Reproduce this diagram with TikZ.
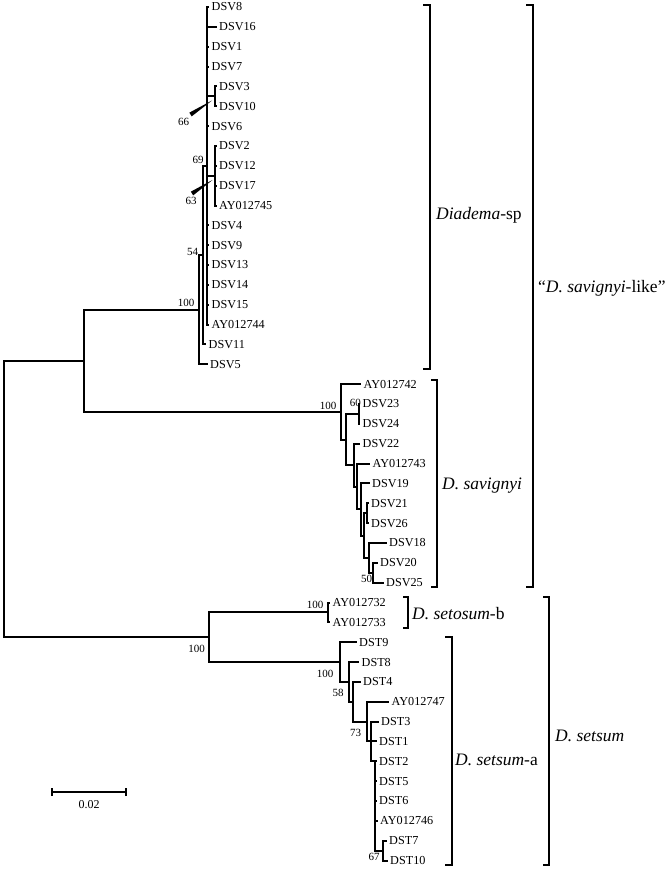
\documentclass[tikz,border=0pt]{standalone}
\usepackage{fontspec}
\setmainfont{Liberation Serif}
\begin{document}
\begin{tikzpicture}[x=1pt,y=-1pt,
  br/.style={line width=2pt},
  brk/.style={line width=2.2pt},
  leaf/.style={anchor=west,inner xsep=2.5pt,inner ysep=0pt,font=\fontsize{12.2}{14}\selectfont},
  bs/.style={inner sep=0pt,font=\fontsize{11}{13}\selectfont},
  clade/.style={anchor=base west,inner sep=0pt,font=\fontsize{17.5}{20}\selectfont}]
\useasboundingbox (0,0) rectangle (671,870);

% ---------- internal nodes ----------
\coordinate (root) at (4,499);
\coordinate (Nlike) at (84,360.75);
\coordinate (N54) at (199,309.7);
\coordinate (N69) at (202.5,255.1);
\coordinate (M) at (207,165.8);
\coordinate (N66) at (215,96.3);
\coordinate (N63) at (215,175.7);
\coordinate (N1) at (341,411.8);
\coordinate (N2) at (346,439.5);
\coordinate (N60) at (359,413.9);
\coordinate (N3) at (354,465.1);
\coordinate (N4) at (357,486.5);
\coordinate (N5) at (361,509.45);
\coordinate (N6) at (364,535.5);
\coordinate (N7) at (366.5,513.2);
\coordinate (N8) at (369,557.8);
\coordinate (N50) at (373,572.7);
\coordinate (Nset) at (209,637.2);
\coordinate (Nb) at (327.5,612.4);
\coordinate (S1) at (340,662.05);
\coordinate (S2) at (349,681.9);
\coordinate (S3) at (352.5,701.75);
\coordinate (S4) at (367,721.6);
\coordinate (S5) at (371,741.45);
\coordinate (S6) at (375,761.3);
\coordinate (N67) at (383,850.6);

% ---------- leaves: Diadema-sp ----------
\node[leaf] (dsv8) at (209,7) {DSV8};
\node[leaf] (dsv16) at (216.5,26.85) {DSV16};
\node[leaf] (dsv1) at (209,46.7) {DSV1};
\node[leaf] (dsv7) at (209,66.55) {DSV7};
\node[leaf] (dsv3) at (216.5,86.4) {DSV3};
\node[leaf] (dsv10) at (216.5,106.25) {DSV10};
\node[leaf] (dsv6) at (209,126.1) {DSV6};
\node[leaf] (dsv2) at (216.5,145.95) {DSV2};
\node[leaf] (dsv12) at (216.5,165.8) {DSV12};
\node[leaf] (dsv17) at (216.5,185.65) {DSV17};
\node[leaf] (ay45) at (216.5,205.5) {AY012745};
\node[leaf] (dsv4) at (209,225.35) {DSV4};
\node[leaf] (dsv9) at (209,245.2) {DSV9};
\node[leaf] (dsv13) at (209,265.05) {DSV13};
\node[leaf] (dsv14) at (209,284.9) {DSV14};
\node[leaf] (dsv15) at (209,304.75) {DSV15};
\node[leaf] (ay44) at (209,324.6) {AY012744};
\node[leaf] (dsv11) at (206,344.45) {DSV11};
\node[leaf] (dsv5) at (207.5,364.3) {DSV5};

% ---------- leaves: D. savignyi ----------
\node[leaf] (ay42) at (361,384.15) {AY012742};
\node[leaf] (dsv23) at (360,404) {DSV23};
\node[leaf] (dsv24) at (360,423.85) {DSV24};
\node[leaf] (dsv22) at (360,443.7) {DSV22};
\node[leaf] (ay43) at (370,463.55) {AY012743};
\node[leaf] (dsv19) at (369.5,483.4) {DSV19};
\node[leaf] (dsv21) at (368.5,503.25) {DSV21};
\node[leaf] (dsv26) at (368.5,523.1) {DSV26};
\node[leaf] (dsv18) at (386.5,542.95) {DSV18};
\node[leaf] (dsv20) at (377.5,562.8) {DSV20};
\node[leaf] (dsv25) at (383.5,582.65) {DSV25};

% ---------- leaves: D. setosum ----------
\node[leaf] (ay32) at (330,602.5) {AY012732};
\node[leaf] (ay33) at (330,622.35) {AY012733};
\node[leaf] (dst9) at (356.5,642.2) {DST9};
\node[leaf] (dst8) at (359,662.05) {DST8};
\node[leaf] (dst4) at (360.5,681.9) {DST4};
\node[leaf] (ay47) at (389,701.75) {AY012747};
\node[leaf] (dst3) at (378.5,721.6) {DST3};
\node[leaf] (dst1) at (376.5,741.45) {DST1};
\node[leaf] (dst2) at (376.5,761.3) {DST2};
\node[leaf] (dst5) at (376.5,781.15) {DST5};
\node[leaf] (dst6) at (376.5,801) {DST6};
\node[leaf] (ay46) at (377.5,820.85) {AY012746};
\node[leaf] (dst7) at (386.5,840.7) {DST7};
\node[leaf] (dst10) at (387.5,860.55) {DST10};

% ---------- branches ----------
\draw[br] (root) |- (Nlike) (root) |- (Nset);
\draw[br] (Nlike) |- (N54) (Nlike) |- (N1);
\draw[br] (N54) |- (N69) (N54) |- (dsv5.west);
\draw[br] (N69) |- (M) (N69) |- (dsv11.west);
\foreach \c in {dsv8,dsv16,dsv1,dsv7,dsv6,dsv4,dsv9,dsv13,dsv14,dsv15,ay44}
  \draw[br] (M) |- (\c.west);
\draw[br] (M) |- (N66) (M) |- (N63);
\draw[br] (N66) |- (dsv3.west) (N66) |- (dsv10.west);
\foreach \c in {dsv2,dsv12,dsv17,ay45}
  \draw[br] (N63) |- (\c.west);

\draw[br] (N1) |- (ay42.west) (N1) |- (N2);
\draw[br] (N2) |- (N60) (N2) |- (N3);
\draw[br] (N60) |- (dsv23.west) (N60) |- (dsv24.west);
\draw[br] (N3) |- (dsv22.west) (N3) |- (N4);
\draw[br] (N4) |- (ay43.west) (N4) |- (N5);
\draw[br] (N5) |- (dsv19.west) (N5) |- (N6);
\draw[br] (N6) |- (N7) (N6) |- (N8);
\draw[br] (N7) |- (dsv21.west) (N7) |- (dsv26.west);
\draw[br] (N8) |- (dsv18.west) (N8) |- (N50);
\draw[br] (N50) |- (dsv20.west) (N50) |- (dsv25.west);

\draw[br] (Nset) |- (Nb) (Nset) |- (S1);
\draw[br] (Nb) |- (ay32.west) (Nb) |- (ay33.west);
\draw[br] (S1) |- (dst9.west) (S1) |- (S2);
\draw[br] (S2) |- (dst8.west) (S2) |- (S3);
\draw[br] (S3) |- (dst4.west) (S3) |- (S4);
\draw[br] (S4) |- (ay47.west) (S4) |- (S5);
\draw[br] (S5) |- (dst3.west) (S5) |- (dst1.west) (S5) |- (S6);
\foreach \c in {dst2,dst5,dst6,ay46}
  \draw[br] (S6) |- (\c.west);
\draw[br] (S6) |- (N67);
\draw[br] (N67) |- (dst7.west) (N67) |- (dst10.west);

% ---------- bootstrap values ----------
\node[bs] (b66) at (183.5,121.5) {66};
\node[bs] (b63) at (191,201) {63};
\node[bs] (b69) at (198,160) {69};
\node[bs] (b54) at (192.5,251.5) {54};
\node[bs] (b100a) at (186,302.5) {100};
\node[bs] (b100s) at (328,406) {100};
\node[bs] (b60) at (355.3,402.5) {60};
\node[bs] (b50) at (366.5,579) {50};
\node[bs] (b100b) at (315,605) {100};
\node[bs] (b100c) at (196.5,649) {100};
\node[bs] (b100d) at (325,673.5) {100};
\node[bs] (b58) at (338,693) {58};
\node[bs] (b73) at (355.5,733) {73};
\node[bs] (b67) at (374,857) {67};

% pointer wedges
\fill (189.3,112.66) -- (191.7,116.34) -- (212,100.5) -- cycle;
\fill (190.8,191.66) -- (193.2,195.34) -- (212.5,180) -- cycle;

% ---------- clade brackets ----------
\draw[brk] (423,5) -- (430,5) -- (430,369) -- (423,369);
\node[clade] (cDsp) at (436,219) {\textit{Diadema}-sp};
\draw[brk] (526,5) -- (533,5) -- (533,587) -- (526,587);
\node[clade] (cLike) at (538,292) {“\textit{D. savignyi}-like”};
\draw[brk] (431,380) -- (437,380) -- (437,587) -- (431,587);
\node[clade] (cSav) at (442,489) {\textit{D. savignyi}};
\draw[brk] (403,597) -- (408,597) -- (408,628) -- (403,628);
\node[clade] (cSetb) at (412,619) {\textit{D. setosum}-b};
\draw[brk] (445,637) -- (452,637) -- (452,865) -- (445,865);
\node[clade] (cSeta) at (455,765) {\textit{D. setsum}-a};
\draw[brk] (543,597) -- (549,597) -- (549,865) -- (543,865);
\node[clade] (cSet) at (555,741) {\textit{D. setsum}};

% ---------- scale bar ----------
\coordinate (sb1) at (52,792);
\coordinate (sb2) at (126,792);
\draw[br] (sb1) -- (sb2);
\draw[br] ([yshift=-4pt]sb1) -- ([yshift=4pt]sb1);
\draw[br] ([yshift=-4pt]sb2) -- ([yshift=4pt]sb2);
\node[font=\fontsize{12}{14}\selectfont,inner sep=0pt] (sbl) at (89,805) {0.02};
\end{tikzpicture}
\end{document}
